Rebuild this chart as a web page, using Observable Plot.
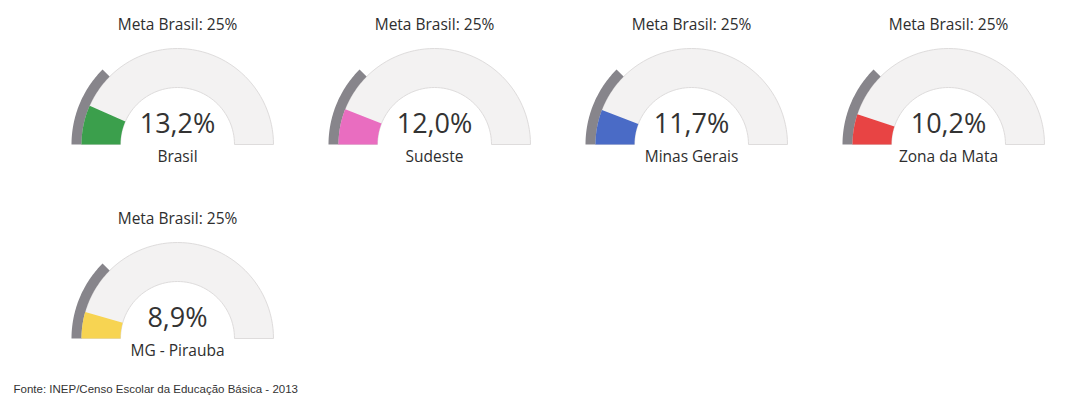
<!DOCTYPE html>
<html><head><meta charset="utf-8">
<script src="https://cdn.jsdelivr.net/npm/d3@7"></script>
<script src="https://cdn.jsdelivr.net/npm/@observablehq/plot@0.6"></script>
<style>
body{margin:0;background:#fff;}
#chart svg{display:block;}
</style>
</head><body>
<div id="chart"></div>
<script>
// ---- data ----
const categories = ["Brasil", "Sudeste", "Minas Gerais", "Zona da Mata", "MG - Pirauba"];
const values = [13.2, 12.0, 11.7, 10.2, 8.9];
const valueLabels = ["13,2%", "12,0%", "11,7%", "10,2%", "8,9%"];
const metaValue = 25;
const metaLabel = "Meta Brasil: 25%";
const seriesColors = ["#3b9f4c", "#e96dc0", "#4a6bc6", "#e84444", "#f7d452"];
const source = "Fonte: INEP/Censo Escolar da Educação Básica - 2013";

// ---- layout ----
const W = 1070, H = 406;
const cols = 4, x0 = 177, dx = 257, y0 = 144, dy = 194;
const rIn = 57, rOut = 96, rMeta = 106;

const gauges = categories.map((c, i) => ({
  name: c, value: values[i], label: valueLabels[i], color: seriesColors[i],
  cx: x0 + (i % cols) * dx, cy: y0 + Math.floor(i / cols) * dy
}));

// ring segment polygon from pct p0..p1 (0 = left, 100 = right)
function ring(g, p0, p1, r0, r1) {
  const n = 60, pts = [];
  for (let k = 0; k <= n; k++) {
    const a = Math.PI - (p0 + (p1 - p0) * k / n) / 100 * Math.PI;
    pts.push({g: g.name, x: g.cx + r1 * Math.cos(a), y: g.cy - r1 * Math.sin(a)});
  }
  for (let k = n; k >= 0; k--) {
    const a = Math.PI - (p0 + (p1 - p0) * k / n) / 100 * Math.PI;
    pts.push({g: g.name, x: g.cx + r0 * Math.cos(a), y: g.cy - r0 * Math.sin(a)});
  }
  pts.push({...pts[0]});
  return pts;
}

const bgPts = gauges.flatMap(g => ring(g, 0, 100, rIn, rOut));
const metaPts = gauges.flatMap(g => ring(g, 0, metaValue, rOut, rMeta));

const fontG = "'Open Sans', 'Noto Sans', sans-serif";

const marks = [
  Plot.line(bgPts, {x: "x", y: "y", z: "g", fill: "#f3f2f2", stroke: "#dedcdc", strokeWidth: 1}),
  Plot.line(metaPts, {x: "x", y: "y", z: "g", fill: "#87858b", stroke: "none"}),
  ...gauges.map(g => Plot.line(ring(g, 0, g.value, rIn, rOut), {x: "x", y: "y", z: "g", fill: g.color, stroke: "none"})),
  Plot.text(gauges, {x: "cx", y: d => d.cy - 119, text: () => metaLabel, fontSize: 15.5, fill: "#2e2e2e", fontFamily: fontG}),
  Plot.text(gauges, {x: "cx", y: d => d.cy - 20, text: "label", fontSize: 27, fill: "#333", fontFamily: fontG}),
  Plot.text(gauges, {x: "cx", y: d => d.cy + 13, text: "name", fontSize: 15.5, fill: "#2e2e2e", fontFamily: fontG}),
  Plot.text([source], {x: () => 13, y: () => 389, text: d => d, textAnchor: "start", fontSize: 11.5, fill: "#333", fontFamily: "'Liberation Sans', Arial, sans-serif"})
];

const chart = Plot.plot({
  width: W, height: H,
  margin: 0,
  x: {domain: [0, W], range: [0, W], axis: null},
  y: {domain: [0, H], range: [0, H], axis: null},
  style: {background: "#fff"},
  marks
});
document.getElementById("chart").appendChild(chart);
</script>
</body></html>
